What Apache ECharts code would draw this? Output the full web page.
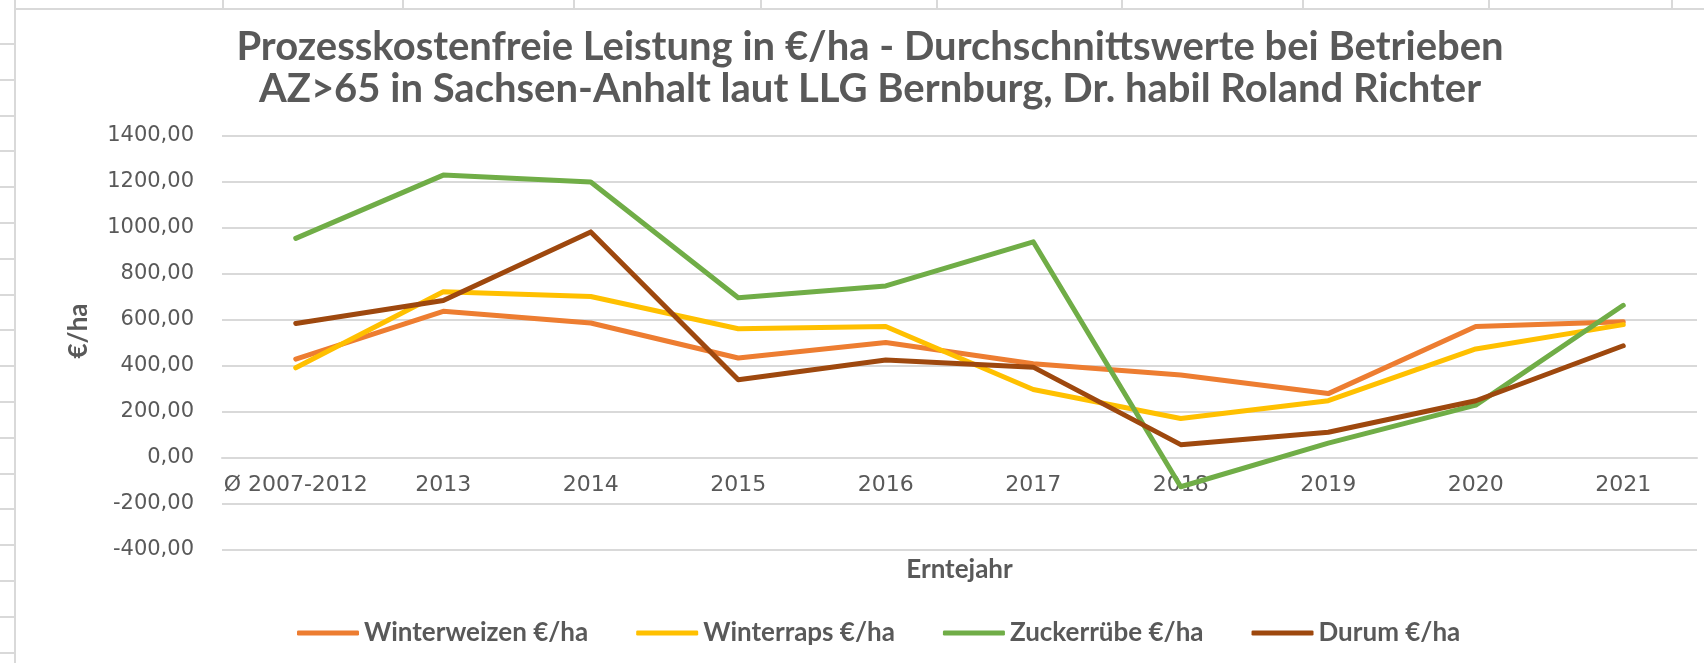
<!DOCTYPE html>
<html>
<head>
<meta charset="utf-8">
<script src="https://cdn.jsdelivr.net/npm/echarts@6/dist/echarts.min.js"></script>
<style>
  html, body { margin: 0; padding: 0; background: #fff; }
  #chart { width: 1704px; height: 663px; }
</style>
</head>
<body>
<div id="chart"></div>
<script>
// Erntejahre
const categories = ['Ø 2007-2012', '2013', '2014', '2015', '2016', '2017', '2018', '2019', '2020', '2021']
// €/ha
const winterweizen = [430, 638, 587, 435, 502, 410, 361, 280, 572, 592]
const winterraps = [392, 723, 702, 562, 572, 298, 172, 249, 474, 580]
const zuckerruebe = [955, 1230, 1200, 697, 748, 940, -125, 65, 230, 664]
const durum = [585, 685, 983, 340, 426, 395, 58, 112, 249, 488]

const seriesNames = ['Winterweizen €/ha', 'Winterraps €/ha', 'Zuckerrübe €/ha', 'Durum €/ha']
const seriesColors = ['#ED7D31', '#FFC000', '#70AD47', '#9E480E']

const textColor = '#595959'
const gridColor = '#d9d9d9'

// Tabellenraster hinter dem Diagramm (nur Deko)
const sheetCols = [223, 403, 574, 761, 937, 1122, 1303, 1489, 1672]
const sheetRows = []
for (let y = 44; y < 663; y += 35.8) sheetRows.push(Math.round(y))

const decor = [
  { type: 'line', shape: { x1: 15, y1: 0, x2: 15, y2: 663 }, style: { stroke: gridColor, lineWidth: 2 } },
  { type: 'line', shape: { x1: 15, y1: 9, x2: 1704, y2: 9 }, style: { stroke: gridColor, lineWidth: 2 } }
]
sheetCols.forEach(x => decor.push({ type: 'line', shape: { x1: x, y1: 0, x2: x, y2: 8 }, style: { stroke: gridColor, lineWidth: 2 } }))
sheetRows.forEach(y => decor.push({ type: 'line', shape: { x1: 0, y1: y, x2: 14, y2: y }, style: { stroke: gridColor, lineWidth: 2 } }))

const data = [winterweizen, winterraps, zuckerruebe, durum]

const chart = echarts.init(document.getElementById('chart'))
chart.setOption({
  animation: false,
  backgroundColor: '#fff',
  title: {
    text: 'Prozesskostenfreie Leistung in €/ha - Durchschnittswerte bei Betrieben\nAZ>65 in Sachsen-Anhalt laut LLG Bernburg, Dr. habil Roland Richter',
    left: 865,
    top: 21,
    textAlign: 'center',
    textStyle: {
      fontFamily: 'Lato',
      fontWeight: 'bold',
      fontSize: 40,
      lineHeight: 42,
      color: textColor
    }
  },
  graphic: decor,
  legend: {
    left: 292,
    top: 615,
    icon: 'roundRect',
    itemWidth: 62,
    itemHeight: 5,
    itemGap: 48,
    textStyle: { fontFamily: 'Lato', fontWeight: 'bold', fontSize: 26, color: textColor },
    data: seriesNames
  },
  grid: { left: 222, right: 7, top: 136, height: 414, outerBoundsMode: 'none' },
  xAxis: {
    type: 'category',
    data: categories,
    boundaryGap: true,
    // Achse liegt bei 0 (wie im Original)
    offset: -92,
    name: 'Erntejahr',
    nameLocation: 'middle',
    nameGap: 99,
    nameTextStyle: { fontFamily: 'Lato', fontWeight: 'bold', fontSize: 26, color: textColor },
    axisLine: { onZero: false, lineStyle: { color: gridColor, width: 2 } },
    axisTick: { show: false },
    axisLabel: { interval: 0, margin: 16, fontFamily: 'DejaVu Sans', fontSize: 22, color: textColor }
  },
  yAxis: {
    type: 'value',
    min: -400,
    max: 1400,
    interval: 200,
    name: '€/ha',
    nameLocation: 'middle',
    nameGap: 130,
    nameTextStyle: { fontFamily: 'Lato', fontWeight: 'bold', fontSize: 26, color: textColor, padding: [0, 0, 0, 24] },
    axisLine: { show: false },
    axisTick: { show: false },
    splitLine: { lineStyle: { color: gridColor, width: 2 } },
    axisLabel: {
      margin: 28,
      fontFamily: 'DejaVu Sans',
      fontSize: 21,
      color: textColor,
      formatter: v => v.toFixed(2).replace('.', ',')
    }
  },
  series: seriesNames.map((name, i) => ({
    name: name,
    type: 'line',
    data: data[i],
    symbol: 'none',
    color: seriesColors[i],
    lineStyle: { width: 5, color: seriesColors[i], cap: 'round', join: 'round' }
  }))
})
</script>
</body>
</html>
